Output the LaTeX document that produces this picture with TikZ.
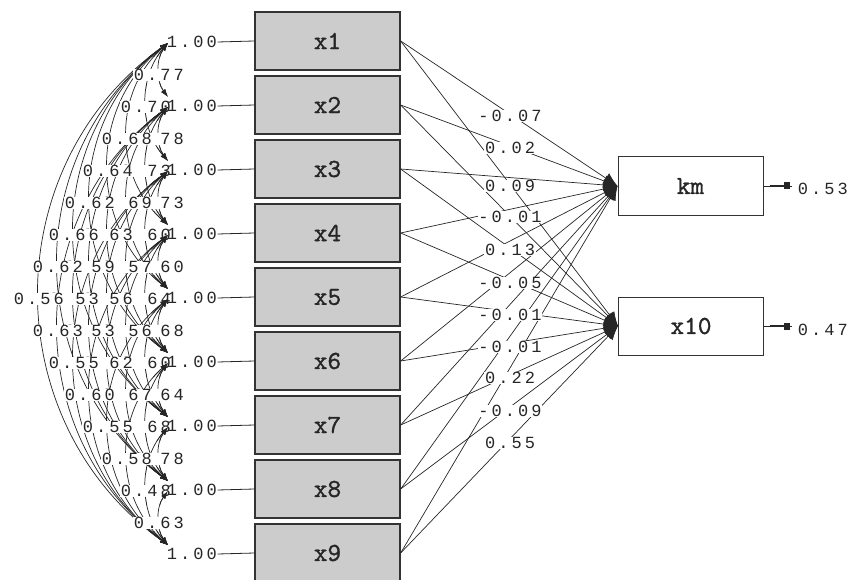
\documentclass[tikz,border=0pt]{standalone}
\usepackage{fontspec}
\usetikzlibrary{arrows.meta,calc}
\newfontfamily\numfont[LetterSpace=18]{Liberation Mono}
\newfontfamily\boxfont[FakeBold=1.2]{lmmono10-regular.otf}

% correlations among x1..x9 (i/j/value), ordered by the distance j-i
\def\corrlist{1/2/0.77,2/3/0.78,3/4/0.73,4/5/0.60,5/6/0.68,6/7/0.64,7/8/0.78,8/9/0.63,
1/3/0.70,2/4/0.73,3/5/0.60,4/6/0.64,5/7/0.60,6/8/0.68,7/9/0.48,
1/4/0.68,2/5/0.69,3/6/0.57,4/7/0.56,5/8/0.67,6/9/0.58,
1/5/0.64,2/6/0.63,3/7/0.56,4/8/0.62,5/9/0.55,
1/6/0.62,2/7/0.59,3/8/0.53,4/9/0.60,
1/7/0.66,2/8/0.53,3/9/0.55,
1/8/0.62,2/9/0.63,
1/9/0.56}

% curved two-headed arrows, drawn as circular arcs bulging to the left
% (handle offset k = 2/3 (h - b^2/h) for half chord h and sagitta b)
\newcommand\covpaths{%
  \foreach \i/\j/\v in \corrlist {
    \pgfmathtruncatemacro\cvd{\j-\i}
    \pgfmathsetmacro\cvb{{9,22,41,60,78,94,110,129}[\cvd-1]}
    \pgfmathsetmacro\cvh{32*\cvd-5}
    \pgfmathsetmacro\cvk{2/3*(\cvh-\cvb*(\cvb/\cvh))}
    \pgfmathsetmacro\cvc{4/3*\cvb}
    \draw[cov] (u\i) .. controls ($(u\i)+(-\cvc,\cvk)$) and ($(l\j)+(-\cvc,-\cvk)$) .. (l\j);
  }}

% correlation values placed at the middle of each arc; the wider arcs are set last,
% each on a white patch padded to the right
\newcommand\corrtext{%
  \foreach \i/\j/\v in \corrlist {
    \pgfmathtruncatemacro\cvd{\j-\i}
    \pgfmathsetmacro\cvs{{133,120,101,82,64,48,32,13}[\cvd-1]}
    \node[num,fill=white] (c\i\j) at (\cvs,{41+32*(\i+\j-2)+2}) {\v\kern9pt};
  }}

\begin{document}
\begin{tikzpicture}[x=1pt,y=-1pt,
  obs/.style={draw=black!80,line width=1.3pt,fill=black!20,minimum width=145pt,
    minimum height=58pt,inner sep=0pt,text=black!85,font=\boxfont\fontsize{26}{26}\selectfont},
  dep/.style={obs,fill=white,line width=1pt},
  num/.style={font=\numfont\fontsize{17}{17}\selectfont,inner sep=0.6pt,anchor=west,text=black!85},
  cov/.style={line width=0.7pt,draw=black!85,
    {Latex[length=8pt,width=5pt]}-{Latex[length=8pt,width=5pt]}},
  gam/.style={line width=0.7pt,draw=black!85,-{Latex[length=14pt,width=12pt]}},
  err/.style={line width=0.8pt,draw=black!85},
]
\useasboundingbox (0,0) rectangle (856,580);

% observed variables
\foreach \i in {1,...,9} {
  \node[obs] (x\i) at (327.5,{41+64*(\i-1)}) {x\i};
  \coordinate (u\i) at (168,{41+64*(\i-1)+2});
  \coordinate (l\i) at (168,{41+64*(\i-1)-8});
}
\node[dep] (km) at (690.5,186) {km};
\node[dep] (x10) at (691,326) {x10};

% covariances
\covpaths
\corrtext

% variances
\foreach \i in {1,...,9} {
  \node[num] (v\i) at (166,{41+64*(\i-1)+1}) {1.00};
  \draw[line width=0.8pt,draw=black!85] (v\i.east) -- (x\i.west);
}

% arrow ends drawn again on top of the values
\begin{scope}
  \clip \foreach \i in {1,...,9} {(146,{41+64*(\i-1)-22}) rectangle (188,{41+64*(\i-1)+16})};
  \covpaths
\end{scope}

% regression paths
\foreach \i in {1,...,9} {
  \draw[gam] (x\i.east) -- (km.west);
  \draw[gam] (x\i.east) -- (x10.west);
}
\foreach \t/\yy [count=\n] in {-0.07/116,0.02/148,0.09/186,-0.01/217,0.13/250,
  -0.05/283,-0.01/315,-0.01/347,0.22/378,-0.09/411,0.55/443}
  \node[num,fill=white,anchor=center] (g\n) at (510,\yy) {\t};

% error variances
\coordinate (ekm) at (792,186);
\coordinate (ex10) at (792,326);
\foreach \e/\b in {ekm/km,ex10/x10} {
  \draw[err] (\e) -- (\b.east);
  \draw[line width=2.4pt,draw=black!85] ($(\e)+(-22,0)$) -- ($(\e)+(-6,0)$);
  \fill[black!85] ($(\e)+(-8,-3.5)$) rectangle ($(\e)+(-2,3.5)$);
}
\node[num] (ekmt) at (797,189) {0.53};
\node[num] (ex10t) at (797,330) {0.47};
\end{tikzpicture}
\end{document}
